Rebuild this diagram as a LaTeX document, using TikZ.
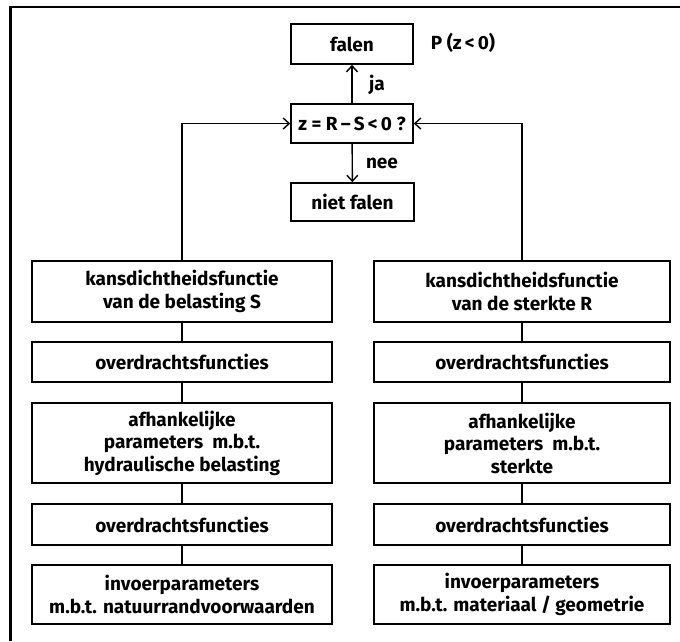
\documentclass[tikz,border=0pt]{standalone}
\usepackage{fontspec}
\setmainfont{Fira Sans}
\usetikzlibrary{arrows.meta}
\begin{document}
\begin{tikzpicture}[x=1pt,y=-1pt,
  every node/.style={font=\fontsize{19}{22.5}\selectfont\bfseries},
  box/.style={draw,line width=1.6pt,align=center,inner sep=0pt},
  lbl/.style={inner sep=0pt},
  link/.style={line width=1.4pt},
  arr/.style={line width=1.4pt,-{Straight Barb[length=6pt,width=11pt,line width=1.4pt]}}]
\useasboundingbox (0,0) rectangle (680,641);
% partial frame
\draw[line width=3pt] (10,641) -- (10,6);
\draw[line width=2pt] (9,7) -- (680,7);
% central nodes
\node[box,minimum width=122pt,minimum height=40pt] (falen) at (352,44) {falen};
\node[lbl] (p) at (463,43) {P (z\,<\,0)};
\node[box,minimum width=122pt,minimum height=39pt] (z) at (352,123.5) {z = R\,–\,S\,<\,0 ?};
\node[box,minimum width=123pt,minimum height=38pt] (niet) at (352.5,202) {niet falen};
\node[lbl] (ja) at (377,85) {ja};
\node[lbl] (nee) at (382,163) {nee};
% left column
\node[box,minimum width=300pt,minimum height=61pt] (kl) at (182,291.5) {kansdichtheidsfunctie\\van de belasting S};
\node[box,minimum width=300pt,minimum height=40pt] (o1l) at (182,362) {overdrachtsfuncties};
\node[box,minimum width=300pt,minimum height=80pt] (al) at (182,443) {afhankelijke\\parameters \ m.b.t.\\hydraulische belasting};
\node[box,minimum width=300pt,minimum height=41pt] (o2l) at (182,524.5) {overdrachtsfuncties};
\node[box,minimum width=300pt,minimum height=59pt] (il) at (182,594.5) {invoerparameters\\m.b.t. natuurrandvoorwaarden};
% right column
\node[box,minimum width=296pt,minimum height=61pt] (kr) at (522,291.5) {kansdichtheidsfunctie\\van de sterkte R};
\node[box,minimum width=296pt,minimum height=40pt] (o1r) at (522,362) {overdrachtsfuncties};
\node[box,minimum width=296pt,minimum height=80pt] (ar) at (522,443) {afhankelijke\\parameters \ m.b.t.\\sterkte};
\node[box,minimum width=296pt,minimum height=41pt] (o2r) at (522,524.5) {overdrachtsfuncties};
\node[box,minimum width=296pt,minimum height=59pt] (ir) at (522,594.5) {invoerparameters\\m.b.t. materiaal / geometrie};
% connectors
\draw[arr] (z) -- (falen);
\draw[arr] (z) -- (niet);
\draw[arr] (kl.north) |- (z.west);
\draw[arr] (kr.north) |- (z.east);
\draw[link] (kl) -- (o1l);
\draw[link] (o1l) -- (al);
\draw[link] (al) -- (o2l);
\draw[link] (o2l) -- (il);
\draw[link] (kr) -- (o1r);
\draw[link] (o1r) -- (ar);
\draw[link] (ar) -- (o2r);
\draw[link] (o2r) -- (ir);
\end{tikzpicture}
\end{document}
